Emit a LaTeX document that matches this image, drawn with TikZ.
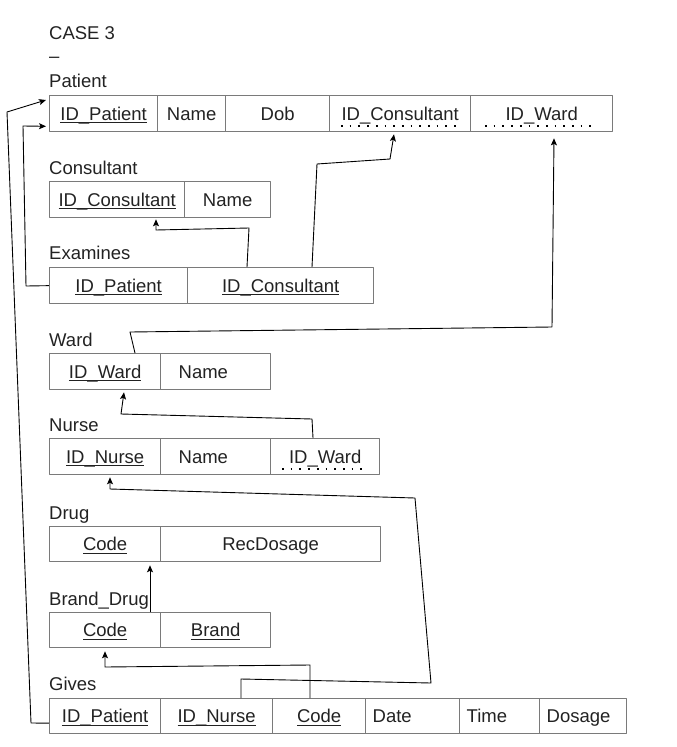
\documentclass[tikz,border=0pt]{standalone}
\usepackage{fontspec}
\setmainfont{Liberation Sans}
\usetikzlibrary{arrows.meta}
\definecolor{cellgray}{HTML}{7A7A7A}
\definecolor{inkgray}{HTML}{222222}
\newsavebox\pkbox
\newcommand\pkey[1]{\sbox\pkbox{#1}\rlap{\vrule width\wd\pkbox height-2pt depth3pt}\usebox\pkbox}
\tikzset{
	cell/.style={draw=cellgray,line width=1.3pt,minimum height=36pt,inner sep=0pt,anchor=north west,text height=13.3pt,text depth=0pt,text=inkgray},
	lcell/.style={cell,text width=#1,align=left},
	tname/.style={anchor=base west,inner sep=0pt,text=inkgray},
	fkdots/.style={line width=1.7pt,dash pattern=on 1.7pt off 7pt},
	link/.style={->,line width=0.9pt}
}
\begin{document}
\begin{tikzpicture}[x=1pt,y=-1pt,>={Stealth[length=7pt,width=6pt,inset=1.5pt]},line join=round,font=\fontsize{18.5}{22}\selectfont]
		\useasboundingbox (0,0) rectangle (677,747);
		\node[tname] (title) at (49,39) {CASE 3};
		\node[tname] (dash) at (49,62) {–};
		\node[tname] (lpat) at (49,87) {Patient};
		\node[cell,minimum width=108pt] (pat1) at (49,95) {\pkey{ID\_Patient}};
		\node[cell,minimum width=68pt] (pat2) at (157,95) {Name};
		\node[cell,minimum width=104pt] (pat3) at (225,95) {Dob};
		\node[cell,minimum width=141pt] (pat4) at (329,95) {ID\_Consultant};
		\node[cell,minimum width=142pt] (pat5) at (470,95) {ID\_Ward};
		\draw[fkdots] ([xshift=12pt,yshift=6pt]pat4.south west)--([xshift=-15pt,yshift=6pt]pat4.south east);
		\draw[fkdots] ([xshift=15pt,yshift=6pt]pat5.south west)--([xshift=-20pt,yshift=6pt]pat5.south east);
		\node[tname] (lcon) at (49,174) {Consultant};
		\node[cell,minimum width=135pt] (con1) at (49,181) {\pkey{ID\_Consultant}};
		\node[cell,minimum width=86pt] (con2) at (184,181) {Name};
		\node[tname] (lexa) at (49,259) {Examines};
		\node[cell,minimum width=138pt] (exa1) at (49,267) {\pkey{ID\_Patient}};
		\node[cell,minimum width=186pt] (exa2) at (187,267) {\pkey{ID\_Consultant}};
		\node[tname] (lwar) at (49,346) {Ward};
		\node[cell,minimum width=111pt] (war1) at (49,353) {\pkey{ID\_Ward}};
		\node[lcell=74pt,minimum width=110pt] (war2) at (160,353) {Name};
		\node[tname] (lnur) at (49,431) {Nurse};
		\node[cell,minimum width=111pt] (nur1) at (49,438) {\pkey{ID\_Nurse}};
		\node[lcell=74pt,minimum width=110pt] (nur2) at (160,438) {Name};
		\node[cell,minimum width=109pt] (nur3) at (270,438) {ID\_Ward};
		\draw[fkdots] ([xshift=12pt,yshift=6pt]nur3.south west)--([xshift=-15pt,yshift=6pt]nur3.south east);
		\node[tname] (ldru) at (49,519) {Drug};
		\node[cell,minimum width=111pt,minimum height=35pt] (dru1) at (49,526) {\pkey{Code}};
		\node[cell,minimum width=220pt,minimum height=35pt] (dru2) at (160,526) {RecDosage};
		\node[tname] (lbra) at (49,605) {Brand\_Drug};
		\node[cell,minimum width=111pt,minimum height=35pt] (bra1) at (49,612) {\pkey{Code}};
		\node[cell,minimum width=110pt,minimum height=35pt] (bra2) at (160,612) {\pkey{Brand}};
		\node[tname] (lgiv) at (49,690) {Gives};
		\node[cell,minimum width=111pt,minimum height=35pt] (giv1) at (49,698) {\pkey{ID\_Patient}};
		\node[cell,minimum width=112pt,minimum height=35pt] (giv2) at (160,698) {\pkey{ID\_Nurse}};
		\node[cell,minimum width=93pt,minimum height=35pt] (giv3) at (272,698) {\pkey{Code}};
		\node[lcell=80pt,minimum width=94pt,minimum height=35pt] (giv4) at (365,698) {Date};
		\node[lcell=66pt,minimum width=80pt,minimum height=35pt] (giv5) at (459,698) {Time};
		\node[lcell=73pt,minimum width=87pt,minimum height=35pt] (giv6) at (539,698) {Dosage};
		\draw[link] (exa1.west)--(26,286)--(23,126)--([xshift=-3pt,yshift=6pt]pat1.south west);
		\draw[link] ([yshift=-7pt]giv1.west)--(31,723)--(7,112)--([xshift=-3pt,yshift=-5pt]pat1.north west);
		\draw[link] ([xshift=60pt]exa2.north west)--(249,228)--(156,230)--([xshift=107pt,yshift=-1pt]con1.south west);
		\draw[link] ([xshift=125pt]exa2.north west)--(317,164)--(390,159)--([xshift=65pt,yshift=-2pt]pat4.south west);
		\draw[link] ([xshift=86pt]war1.north west)--(130,332)--(552,327)--([xshift=84pt,yshift=-6pt]pat5.south west);
		\draw[link] ([xshift=43pt]nur3.north west)--(312,419)--(121,414)--([xshift=75pt,yshift=-2pt]war1.south west);
		\draw[link] ([xshift=81pt]giv2.north west)--(241,679)--(431,683)--(415,498)--(110,489)--([xshift=61pt,yshift=-2pt]nur1.south west);
		\draw[link] ([xshift=38pt]giv3.north west)--(310,665)--(105,667)--([xshift=56pt,yshift=-3pt]bra1.south west);
		\draw[link] ([xshift=101pt]bra1.north west)--([xshift=101pt,yshift=-3pt]dru1.south west);
\end{tikzpicture}
\end{document}
